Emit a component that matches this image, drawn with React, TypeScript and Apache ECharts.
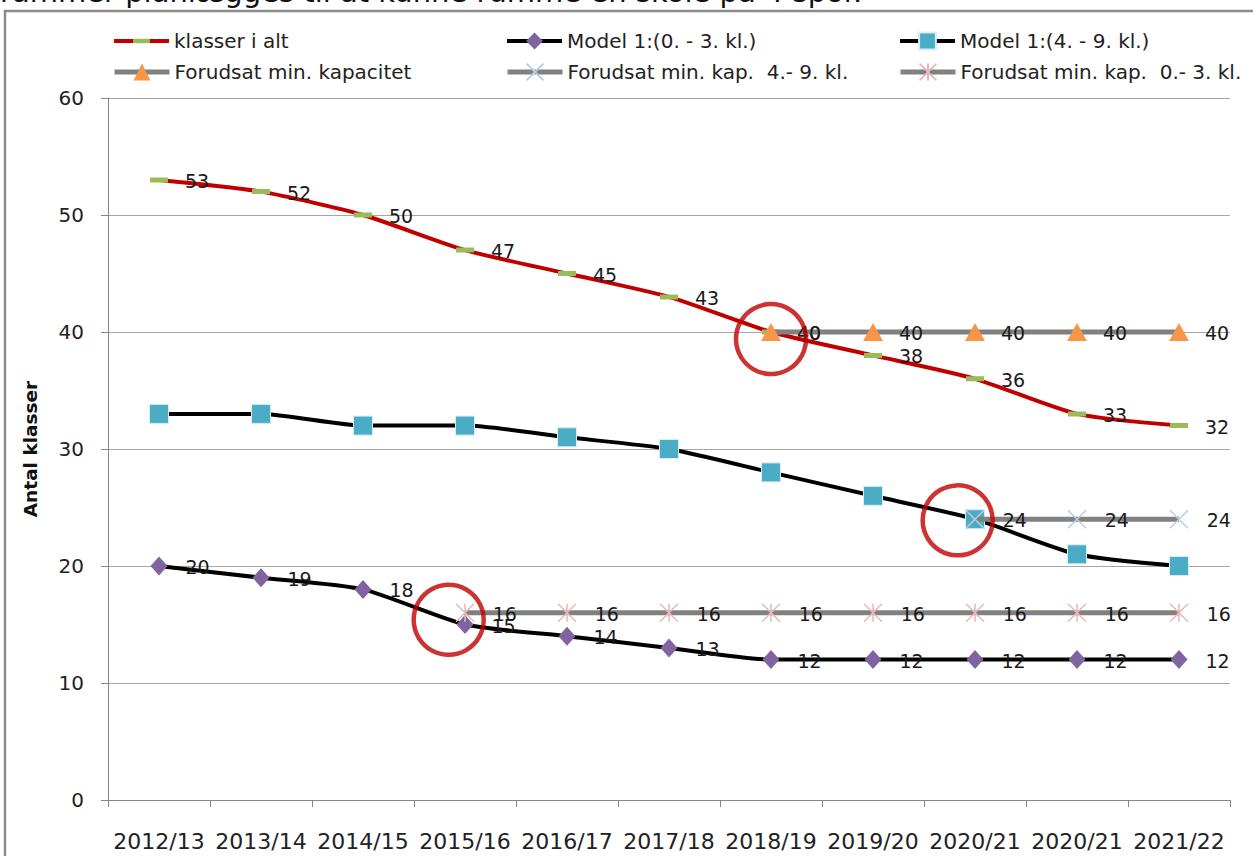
import React, { useEffect, useRef } from "react";
import * as echarts from "echarts";

const categories = ["2012/13", "2013/14", "2014/15", "2015/16", "2016/17", "2017/18", "2018/19", "2019/20", "2020/21", "2020/21", "2021/22"];
const totalClasses = [53, 52, 50, 47, 45, 43, 40, 38, 36, 33, 32];
const model03 = [20, 19, 18, 15, 14, 13, 12, 12, 12, 12, 12];
const model49 = [33, 33, 32, 32, 31, 30, 28, 26, 24, 21, 20];
const minCap = [null, null, null, null, null, null, 40, 40, 40, 40, 40];
const minCap49 = [null, null, null, null, null, null, null, null, 24, 24, 24];
const minCap03 = [null, null, null, 16, 16, 16, 16, 16, 16, 16, 16];
const highlightX = [6.0, 7.83, 2.84];
const highlightY = [39.4, 23.9, 15.4];
const seriesNames = [
  "klasser i alt",
  "Model 1:(0. - 3. kl.)",
  "Model 1:(4. - 9. kl.)",
  "Forudsat min. kapacitet",
  "Forudsat min. kap.  4.- 9. kl.",
  "Forudsat min. kap.  0.- 3. kl.",
];
const topText = "rammer planlægges til at kunne rumme en skole på 4 spor.";
const yTicks = { min: 0, max: 60, interval: 10 };

const FONT = "DejaVu Sans";
const DASH = "path://M0,0L0,0.01L0.01,0.01ZM0,6.5L18,6.5L18,11.5L0,11.5ZM18,18L18,17.99L17.99,18Z";
const XMARK = "path://M0,0L10,10M10,0L0,10";
const STAR = "path://M0,0L10,10M10,0L0,10M5,0L5,10";

export default function App() {
  const ref = useRef<HTMLDivElement>(null);
  useEffect(() => {
    if (!ref.current) return;
    const chart = echarts.init(ref.current, undefined, { renderer: "svg" });
    const labelStyle = {
      show: true,
      position: "right" as const,
      distance: 16,
      fontFamily: FONT,
      fontSize: 19,
      color: "#1a1a1a",
      offset: [0, 1],
    };
    const legendPos = [
      { left: 107, top: 25, w: 4 },
      { left: 500, top: 25, w: 4 },
      { left: 893, top: 25, w: 4 },
      { left: 107, top: 56, w: 5 },
      { left: 500, top: 56, w: 5 },
      { left: 893, top: 56, w: 5 },
    ];
    const option: any = {
      animation: false,
      backgroundColor: "#ffffff",
      textStyle: { fontFamily: FONT },
      graphic: [
        {
          type: "rect",
          shape: { x: 5, y: 11, width: 1300, height: 900 },
          style: { fill: "none", stroke: "#8a8a8a", lineWidth: 2.5 },
          z: 0,
        },
        {
          type: "text",
          x: 0,
          y: -8,
          style: {
            text: topText,
            fontFamily: FONT,
            fontSize: 29,
            fill: "#111",
            verticalAlign: "middle",
          },
        },
      ],
      legend: legendPos.map((p, i) => ({
        left: p.left,
        top: p.top,
        data: [seriesNames[i]],
        itemWidth: 55,
        itemHeight: 21,
        itemGap: 0,
        lineStyle: { width: p.w },
        textStyle: { fontFamily: FONT, fontSize: 20, color: "#222", lineHeight: 22 },
        selectedMode: false,
      })),
      grid: { left: 108, right: 23, top: 98, bottom: 56, containLabel: false },
      xAxis: [
        {
          type: "category",
          data: categories,
          boundaryGap: true,
          axisLine: { lineStyle: { color: "#868686", width: 1 } },
          axisTick: { show: true, length: 7, lineStyle: { color: "#868686" } },
          axisLabel: { fontFamily: FONT, fontSize: 22, color: "#222", margin: 30, interval: 0 },
        },
        {
          type: "value",
          min: -0.5,
          max: 10.5,
          show: false,
        },
      ],
      yAxis: {
        type: "value",
        min: yTicks.min,
        max: yTicks.max,
        interval: yTicks.interval,
        name: "Antal klasser",
        nameLocation: "middle",
        nameRotate: 90,
        nameGap: 68,
        nameTextStyle: { fontFamily: FONT, fontSize: 18.5, fontWeight: "bold", color: "#111" },
        axisLine: { show: true, onZero: false, lineStyle: { color: "#868686", width: 1 } },
        axisTick: { show: true, length: 7, lineStyle: { color: "#868686" } },
        axisLabel: { fontFamily: FONT, fontSize: 20, color: "#222", margin: 24 },
        splitLine: { lineStyle: { color: "#a6a6a6", width: 1 } },
      },
      series: [
        {
          name: seriesNames[0],
          type: "line",
          data: totalClasses,
          smooth: 0.22,
          symbol: DASH,
          symbolSize: 18,
          itemStyle: { color: "#9BBB59" },
          lineStyle: { color: "#C00000", width: 4 },
          label: { ...labelStyle, distance: 17 },
          z: 2,
        },
        {
          name: seriesNames[1],
          type: "line",
          data: model03,
          smooth: 0.22,
          symbol: "diamond",
          symbolSize: [17, 19],
          itemStyle: { color: "#8064A2" },
          lineStyle: { color: "#000000", width: 4 },
          label: { ...labelStyle, distance: 18 },
          z: 3,
        },
        {
          name: seriesNames[2],
          type: "line",
          data: model49,
          smooth: 0.22,
          symbol: "rect",
          symbolSize: 19,
          itemStyle: { color: "#4BACC6", borderColor: "#d6eef4", borderWidth: 1 },
          lineStyle: { color: "#000000", width: 4 },
          z: 4,
        },
        {
          name: seriesNames[3],
          type: "line",
          data: minCap,
          symbol: "triangle",
          symbolSize: [20, 18],
          itemStyle: { color: "#F79646" },
          lineStyle: { color: "#808080", width: 5 },
          label: { ...labelStyle, distance: 16 },
          z: 5,
        },
        {
          name: seriesNames[4],
          type: "line",
          data: minCap49,
          symbol: XMARK,
          symbolSize: 18,
          itemStyle: { color: "#B9CDE5", borderColor: "#B9CDE5", borderWidth: 1.5 },
          lineStyle: { color: "#808080", width: 5 },
          label: { ...labelStyle, distance: 18 },
          z: 6,
        },
        {
          name: seriesNames[5],
          type: "line",
          data: minCap03,
          symbol: STAR,
          symbolSize: 18,
          itemStyle: { color: "#E6B9B8", borderColor: "#E6B9B8", borderWidth: 1.5 },
          lineStyle: { color: "#808080", width: 5 },
          label: { ...labelStyle, distance: 18 },
          z: 7,
        },
        {
          name: "highlight",
          type: "scatter",
          xAxisIndex: 1,
          data: highlightX.map((x, i) => [x, highlightY[i]]),
          symbol: "circle",
          symbolSize: 70,
          itemStyle: { color: "rgba(0,0,0,0)", borderColor: "#C00000", borderWidth: 4.5 },
          silent: true,
          z: 10,
        },
      ],
    };
    chart.setOption(option);
    return () => chart.dispose();
  }, []);
  return (
    <div
      ref={ref}
      style={{ position: "absolute", left: 0, top: 0, width: 1253, height: 856, background: "#fff" }}
    />
  );
}
